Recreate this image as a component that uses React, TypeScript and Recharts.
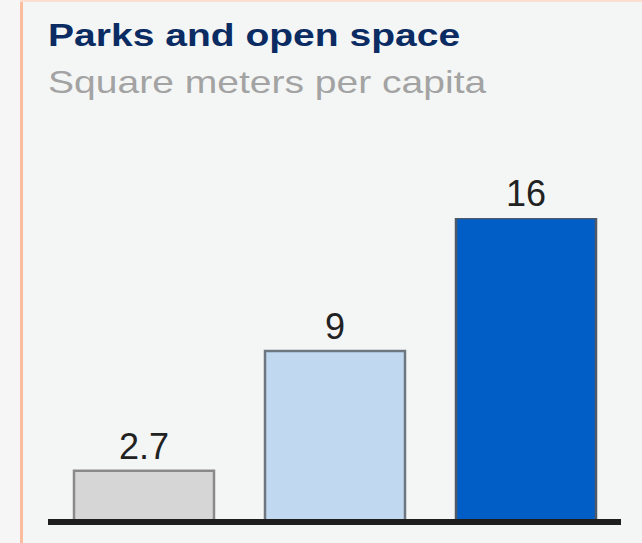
import { BarChart, Bar, XAxis, YAxis, Cell, LabelList, ReferenceLine } from "recharts";

const categories = ["Current", "Target", "Benchmark"];
const values = [2.7, 9, 16];
const fills = ["#d6d6d6", "#c0d9f1", "#005ec6"];
const strokes = ["#8a8a8a", "#6e7780", "#4f5968"];

const title = "Parks and open space";
const subtitle = "Square meters per capita";

const data = categories.map((name, i) => ({ name, value: values[i] }));

export default function App() {
	return (
		<div
			style={{
				position: "absolute",
				left: 0,
				top: 0,
				width: 642,
				height: 543,
				background: "#f4f6f5",
				overflow: "hidden",
				fontFamily: "Liberation Sans, Arial, sans-serif",
			}}>
			<svg
				width={642}
				height={543}
				style={{ position: "absolute", left: 0, top: 0 }}>
				<rect x={0} y={0} width={20} height={543} fill="#f6f6f6" />
				<rect x={20} y={0} width={3} height={543} fill="#fbbd9e" />
				<rect x={20} y={0} width={622} height={2} fill="#fbe0d2" />
				<text
					transform="translate(48,46) scale(1.22,1)"
					fontSize={32}
					fontWeight="bold"
					fill="#0b2b63">
					{title}
				</text>
				<text
					transform="translate(48,93) scale(1.22,1)"
					fontSize={32}
					fill="#a3a3a3">
					{subtitle}
				</text>
			</svg>
			<div style={{ position: "absolute", left: 0, top: 0 }}>
				<BarChart
					width={642}
					height={543}
					data={data}
					margin={{ top: 218, right: 21, bottom: 21, left: 48 }}>
					<XAxis dataKey="name" hide />
					<YAxis hide domain={[0, 16]} allowDataOverflow />
					<Bar
						dataKey="value"
						barSize={140}
						strokeWidth={2.5}
						isAnimationActive={false}>
						{data.map((d, i) => (
							<Cell key={d.name} fill={fills[i]} stroke={strokes[i]} />
						))}
						<LabelList
							dataKey="value"
							position="top"
							offset={12}
							fill="#222"
							fontSize={36}
							fontFamily="Liberation Sans, Arial, sans-serif"
						/>
					</Bar>
					<ReferenceLine y={0} stroke="#1e1e1e" strokeWidth={6} />
				</BarChart>
			</div>
		</div>
	);
}
